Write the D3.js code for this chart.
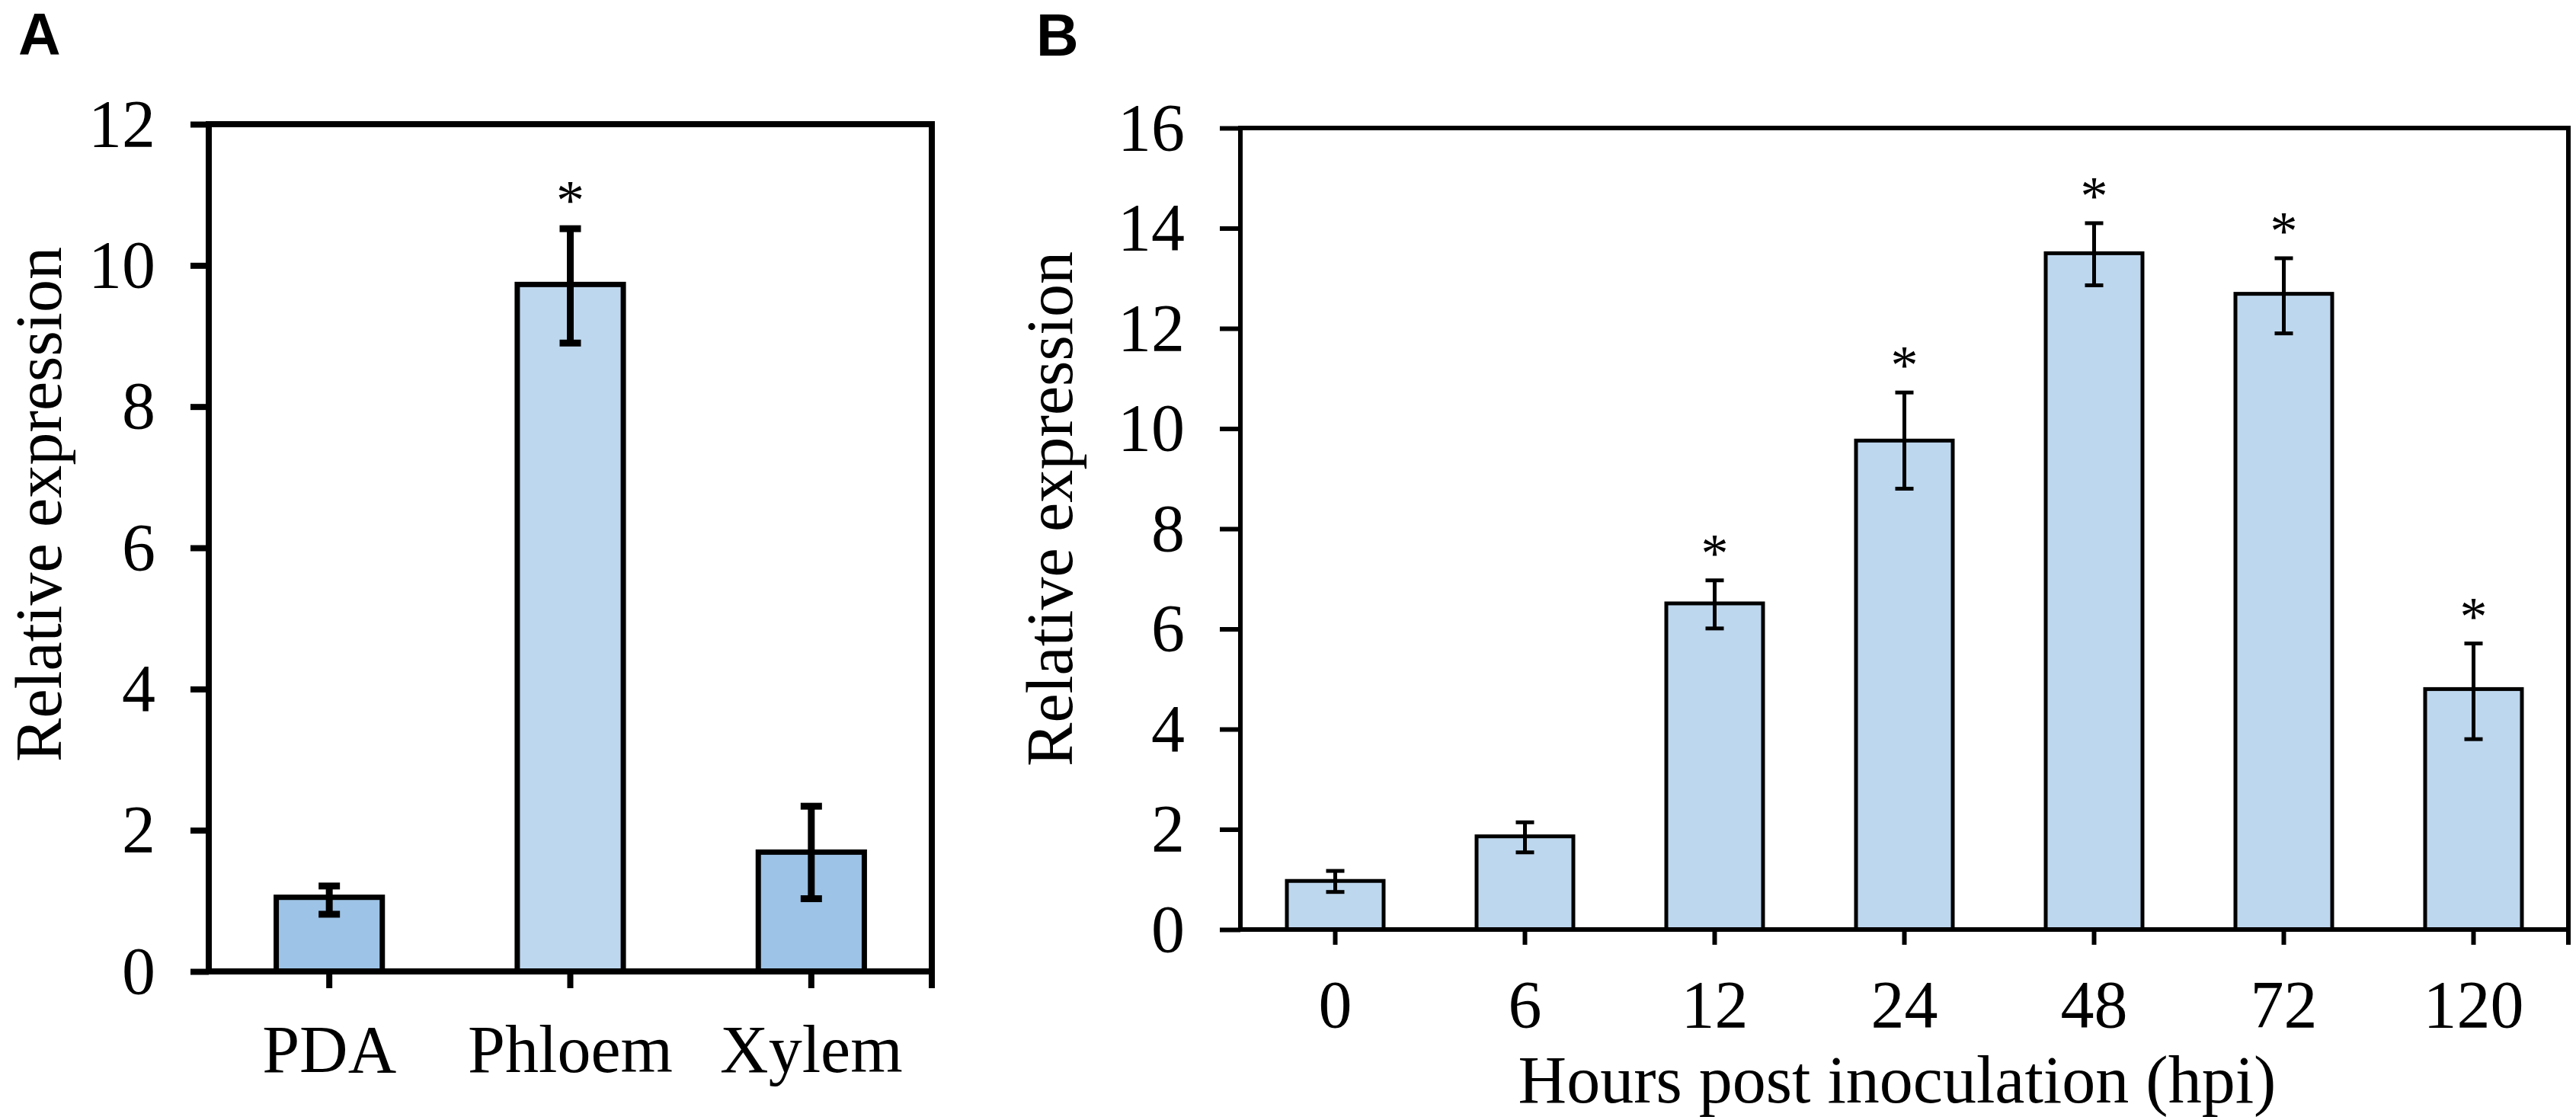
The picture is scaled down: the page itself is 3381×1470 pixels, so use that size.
<!DOCTYPE html>
<html>
<head>
<meta charset="utf-8">
<script src="https://cdn.jsdelivr.net/npm/d3@7"></script>
<style>
  html, body { margin: 0; padding: 0; background: #fff; }
  svg { display: block; }
</style>
</head>
<body>
<svg id="chart" width="3381" height="1470"></svg>
<script>
// ---------- Data ----------
const tissueCategories = ["PDA", "Phloem", "Xylem"];
const tissueValues = [1.05, 9.73, 1.69];
const tissueErrLow = [0.81, 8.90, 1.03];
const tissueErrHigh = [1.21, 10.52, 2.34];
const tissueSignificant = [false, true, false];
const tissueYTicks = [0, 2, 4, 6, 8, 10, 12];

const timeCategories = ["0", "6", "12", "24", "48", "72", "120"];
const timeValues = [0.97, 1.86, 6.51, 9.76, 13.50, 12.69, 4.80];
const timeErrLow = [0.75, 1.54, 6.01, 8.80, 12.86, 11.90, 3.80];
const timeErrHigh = [1.17, 2.14, 6.97, 10.72, 14.10, 13.40, 5.71];
const timeSignificant = [false, false, true, true, true, true, true];
const timeYTicks = [0, 2, 4, 6, 8, 10, 12, 14, 16];

const svg = d3.select("#chart");
const SERIF = "'Liberation Serif', 'Times New Roman', serif";
const SANS = "'Liberation Sans', Arial, sans-serif";

function panel(cfg) {
  const g = svg.append("g");
  const x = d3.scaleBand().domain(cfg.cats).range([cfg.left, cfg.right]);
  const y = d3.scaleLinear().domain([0, cfg.yMax]).range([cfg.bottom, cfg.top]);
  const barW = x.bandwidth() * cfg.barFrac;

  // bars
  g.selectAll("rect.bar").data(cfg.cats).enter().append("rect")
    .attr("class", "bar")
    .attr("x", d => x(d) + (x.bandwidth() - barW) / 2)
    .attr("width", barW)
    .attr("y", (d, i) => y(cfg.values[i]))
    .attr("height", (d, i) => y(0) - y(cfg.values[i]))
    .attr("fill", (d, i) => cfg.fills[i])
    .attr("stroke", "#000")
    .attr("stroke-width", cfg.barStroke);

  // error bars
  const eg = g.append("g").attr("stroke", "#000").attr("stroke-width", cfg.errStroke);
  cfg.cats.forEach((d, i) => {
    const cx = x(d) + x.bandwidth() / 2;
    const yl = y(cfg.lo[i]), yh = y(cfg.hi[i]);
    eg.append("line").attr("x1", cx).attr("x2", cx).attr("y1", yl).attr("y2", yh);
    eg.append("line").attr("x1", cx - cfg.capW / 2).attr("x2", cx + cfg.capW / 2).attr("y1", yh).attr("y2", yh);
    eg.append("line").attr("x1", cx - cfg.capW / 2).attr("x2", cx + cfg.capW / 2).attr("y1", yl).attr("y2", yl);
    if (cfg.sig[i]) {
      g.append("text")
        .attr("x", cx).attr("y", yh - cfg.starGap)
        .attr("text-anchor", "middle")
        .attr("font-family", SERIF).attr("font-size", cfg.starSize)
        .attr("fill", "#000")
        .text("*");
    }
  });

  // y axis
  const ya = g.append("g").attr("transform", `translate(${cfg.left},0)`)
    .call(d3.axisLeft(y).tickValues(cfg.yTicks).tickSize(cfg.yTickLen).tickSizeOuter(0).tickPadding(cfg.yTickPad));
  ya.select(".domain").remove();
  ya.selectAll("line").attr("stroke", "#000").attr("stroke-width", cfg.frameStroke);
  ya.selectAll("text").attr("font-family", SERIF).attr("font-size", cfg.fontSize).attr("fill", "#000");

  // x axis
  const xa = g.append("g").attr("transform", `translate(0,${cfg.bottom})`)
    .call(d3.axisBottom(x).tickSize(cfg.xTickLen).tickSizeOuter(0));
  xa.select(".domain").remove();
  xa.selectAll("line").attr("stroke", "#000").attr("stroke-width", cfg.frameStroke);
  xa.selectAll("text").attr("dy", null).attr("y", cfg.xLabelOffset)
    .attr("font-family", SERIF).attr("font-size", cfg.fontSize).attr("fill", "#000");

  // frame box
  g.append("rect")
    .attr("x", cfg.left).attr("y", cfg.top)
    .attr("width", cfg.right - cfg.left).attr("height", cfg.bottom - cfg.top)
    .attr("fill", "none").attr("stroke", "#000").attr("stroke-width", cfg.frameStroke);
  // right end tick below axis
  g.append("line")
    .attr("x1", cfg.right).attr("x2", cfg.right)
    .attr("y1", cfg.bottom).attr("y2", cfg.bottom + cfg.xTickLen)
    .attr("stroke", "#000").attr("stroke-width", cfg.frameStroke);

  // y label
  g.append("text")
    .attr("transform", `translate(${cfg.yLabelX},${cfg.yLabelY}) rotate(-90)`)
    .attr("text-anchor", "middle")
    .attr("font-family", SERIF).attr("font-size", cfg.yLabelSize).attr("fill", "#000")
    .text("Relative expression");

  if (cfg.xLabel) {
    g.append("text")
      .attr("x", cfg.xLabelX).attr("y", cfg.xLabelY)
      .attr("text-anchor", "middle")
      .attr("font-family", SERIF).attr("font-size", cfg.fontSize).attr("fill", "#000")
      .text(cfg.xLabel);
  }

  // panel letter
  g.append("text")
    .attr("x", cfg.letterX).attr("y", cfg.letterY)
    .attr("font-family", SANS).attr("font-weight", "bold").attr("font-size", 77).attr("fill", "#000")
    .text(cfg.letter);
}

panel({
  cats: tissueCategories, values: tissueValues, lo: tissueErrLow, hi: tissueErrHigh, sig: tissueSignificant,
  yTicks: tissueYTicks, yMax: 12,
  left: 274, right: 1223, top: 163, bottom: 1275,
  barFrac: 0.44, fills: ["#9dc3e6", "#bdd7ee", "#9dc3e6"],
  barStroke: 7, errStroke: 9, capW: 28, frameStroke: 8,
  starGap: 12, starSize: 74,
  yTickLen: 24, yTickPad: 46, xTickLen: 22, xLabelOffset: 132, fontSize: 88,
  yLabelX: 80, yLabelY: 662, yLabelSize: 86,
  letter: "A", letterX: 24, letterY: 72
});

panel({
  cats: timeCategories, values: timeValues, lo: timeErrLow, hi: timeErrHigh, sig: timeSignificant,
  yTicks: timeYTicks, yMax: 16,
  left: 1628, right: 3371, top: 168, bottom: 1220,
  barFrac: 0.51, fills: timeCategories.map(() => "#bdd7ee"),
  barStroke: 5, errStroke: 5, capW: 24, frameStroke: 6,
  starGap: 12, starSize: 72,
  yTickLen: 27, yTickPad: 46, xTickLen: 20, xLabelOffset: 128, fontSize: 88,
  yLabelX: 1407, yLabelY: 668, yLabelSize: 86,
  xLabel: "Hours post inoculation (hpi)", xLabelX: 2490, xLabelY: 1447,
  letter: "B", letterX: 1360, letterY: 73
});
</script>
</body>
</html>
